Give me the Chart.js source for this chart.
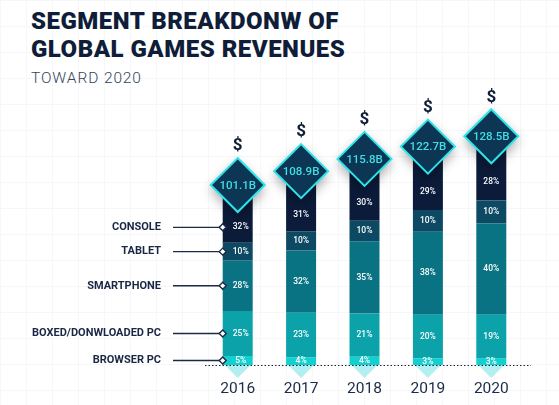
<!DOCTYPE html>
<html>
<head>
<meta charset="utf-8">
<script src="https://cdn.jsdelivr.net/npm/chart.js@4.4.0/dist/chart.umd.min.js"></script>
<style>
  html, body { margin:0; padding:0; }
  body {
    width:559px; height:405px; position:relative; overflow:hidden;
    font-family: Roboto, sans-serif; background:#fff;
    background-image: linear-gradient(#f6f7f9 1px, transparent 1px), linear-gradient(90deg, #f6f7f9 1px, transparent 1px);
    background-size: 26px 26px;
  }
  #title { position:absolute; left:31px; top:7px; font-weight:900; font-size:24px; line-height:28px; color:#0f1d38; letter-spacing:0.5px; }
  #sub { position:absolute; left:31px; top:69px; font-weight:300; font-size:15.5px; color:#33455c; letter-spacing:0.9px; }
  #wrap { position:absolute; left:0; top:0; width:559px; height:405px; }
</style>
</head>
<body>
<div id="title">SEGMENT BREAKDONW OF<br>GLOBAL GAMES REVENUES</div>
<div id="sub">TOWARD 2020</div>
<div id="wrap"><canvas id="myChart"></canvas></div>
<script>
// values
const years = ['2016', '2017', '2018', '2019', '2020'];
const totals = [101.1, 108.9, 115.8, 122.7, 128.5];   // billions $
const segmentNames = ['BROWSER PC', 'BOXED/DONWLOADED PC', 'SMARTPHONE', 'TABLET', 'CONSOLE'];
const browserPc = [5, 4, 4, 3, 3];
const boxedPc = [25, 23, 21, 20, 19];
const smartphone = [28, 32, 35, 38, 40];
const tablet = [10, 10, 10, 10, 10];
const consoleShare = [32, 31, 30, 29, 28];

const shares = [browserPc, boxedPc, smartphone, tablet, consoleShare];
const colors = ['#12d0cf', '#0ba2a9', '#0a7383', '#0d4963', '#0b1b39'];

const NAVY = '#0f1d38';

// bar height = share of that year's revenue
const datasets = shares.map(function (arr, k) {
  return {
    label: segmentNames[k],
    data: arr.map(function (p, i) { return totals[i] * p / 100; }),
    backgroundColor: colors[k],
    borderWidth: 0,
    barPercentage: 0.473,
    categoryPercentage: 1
  };
});

const decor = {
  id: 'decor',
  afterDatasetsDraw(chart) {
    const ctx = chart.ctx;
    const area = chart.chartArea;
    const n = chart.data.datasets.length;
    const top = chart.getDatasetMeta(n - 1).data;
    const R = 27;

    ctx.save();
    // light triangles under each bar
    top.forEach(function (el) {
      const hw = el.width / 2 - 2;
      ctx.fillStyle = '#b3eef0';
      ctx.beginPath();
      ctx.moveTo(el.x - hw, area.bottom);
      ctx.lineTo(el.x + hw, area.bottom);
      ctx.lineTo(el.x, area.bottom + 13);
      ctx.closePath();
      ctx.fill();
    });

    // dotted baseline
    ctx.strokeStyle = '#1c2233';
    ctx.lineWidth = 1;
    ctx.setLineDash([1.5, 2]);
    ctx.beginPath();
    ctx.moveTo(area.left - 1, area.bottom + 0.5);
    ctx.lineTo(area.right + 8, area.bottom + 0.5);
    ctx.stroke();
    ctx.setLineDash([]);

    // year labels under the bars
    ctx.textAlign = 'center';
    ctx.textBaseline = 'middle';
    ctx.fillStyle = '#1b2b48';
    ctx.font = '15.5px Roboto';
    years.forEach(function (y, i) {
      ctx.fillText(y, chart.scales.x.getPixelForValue(i), area.bottom + 24);
    });

    // percentage labels + leader lines for the first bar
    for (let k = 0; k < n; k++) {
      const meta = chart.getDatasetMeta(k);
      meta.data.forEach(function (el, i) {
        let y0 = el.y;
        if (k === n - 1) y0 = el.y + R;
        const cy = (y0 + el.base) / 2;
        ctx.fillStyle = '#ffffff';
        ctx.font = '500 8.5px Roboto';
        ctx.fillText(shares[k][i] + '%', el.x + (i === 0 ? 3 : 0), cy);

        if (i === 0) {
          const lx = el.x - el.width / 2;
          ctx.strokeStyle = '#1c2a46';
          ctx.lineWidth = 1.4;
          ctx.beginPath();
          ctx.moveTo(173, cy);
          ctx.lineTo(lx, cy);
          ctx.stroke();
          ctx.fillStyle = '#ffffff';
          ctx.beginPath();
          ctx.moveTo(lx, cy - 3.5);
          ctx.lineTo(lx + 3.5, cy);
          ctx.lineTo(lx, cy + 3.5);
          ctx.lineTo(lx - 3.5, cy);
          ctx.closePath();
          ctx.fill();
          ctx.stroke();
          ctx.fillStyle = '#1a2744';
          ctx.font = 'bold 11px Roboto';
          ctx.textAlign = 'right';
          ctx.fillText(segmentNames[k], 161, cy);
          ctx.textAlign = 'center';
        }
      });
    }

    // diamonds with totals and $ signs
    top.forEach(function (el, i) {
      const x = el.x, y = el.y;
      ctx.save();
      ctx.shadowColor = 'rgba(0,0,0,0.35)';
      ctx.shadowBlur = 12;
      ctx.shadowOffsetY = 5;
      ctx.fillStyle = '#0c3654';
      ctx.beginPath();
      ctx.moveTo(x, y - R);
      ctx.lineTo(x + R, y);
      ctx.lineTo(x, y + R);
      ctx.lineTo(x - R, y);
      ctx.closePath();
      ctx.fill();
      ctx.restore();
      ctx.strokeStyle = '#2ce4ea';
      ctx.lineWidth = 2;
      ctx.stroke();

      ctx.fillStyle = '#3fdfe5';
      ctx.font = '500 11.5px Roboto';
      ctx.fillText(totals[i].toFixed(1) + 'B', x, y + 1);

      ctx.fillStyle = NAVY;
      ctx.font = 'bold 17px Roboto';
      ctx.fillText('$', x, y - R - 12);
    });
    ctx.restore();
  }
};

const chart = new Chart(document.getElementById('myChart').getContext('2d'), {
  type: 'bar',
  data: { labels: years, datasets: datasets },
  options: {
    responsive: true,
    maintainAspectRatio: false,
    animation: false,
    layout: { padding: { left: 206, right: 36, top: 98, bottom: 40 } },
    plugins: { legend: { display: false }, tooltip: { enabled: false } },
    scales: {
      x: { stacked: true, display: false },
      y: { stacked: true, display: false, min: 0, max: 150 }
    }
  },
  plugins: [decor]
});
</script>
</body>
</html>
